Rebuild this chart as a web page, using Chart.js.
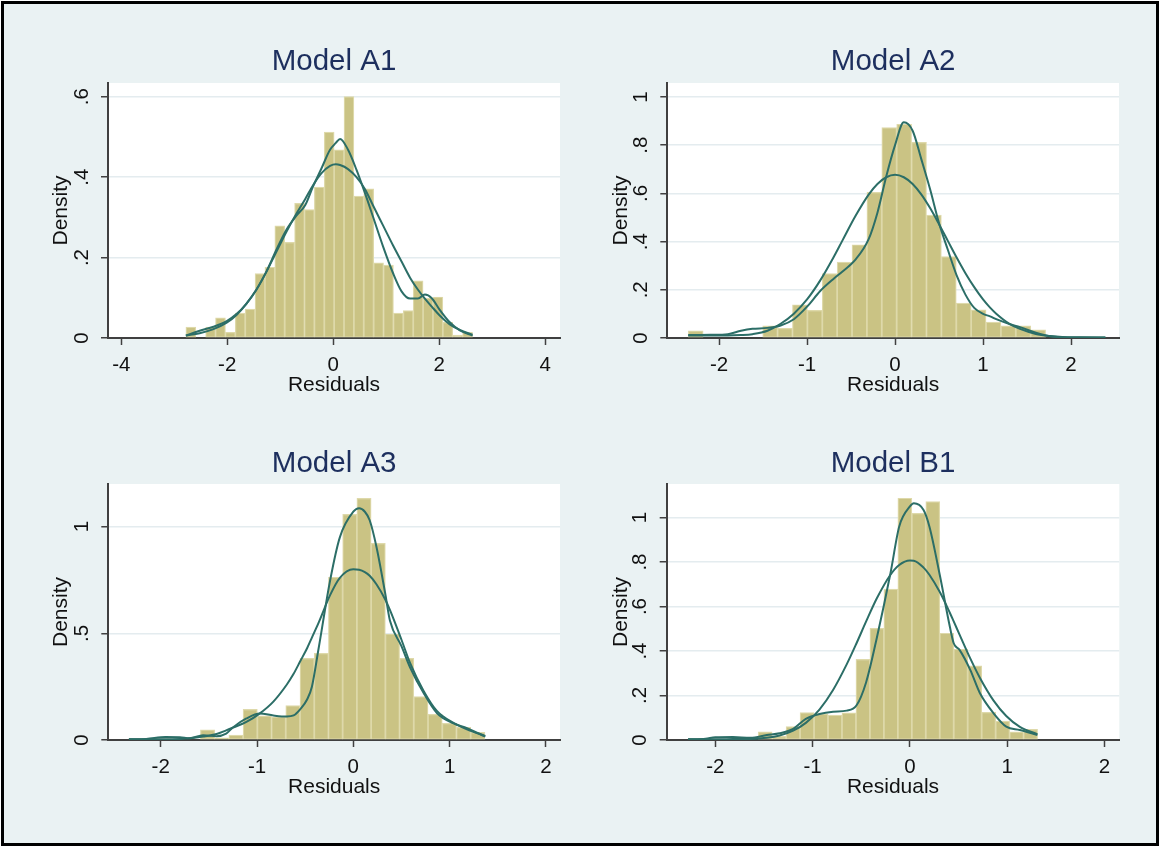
<!DOCTYPE html>
<html>
<head>
<meta charset="utf-8">
<script src="https://cdn.jsdelivr.net/npm/chart.js@4.4.1/dist/chart.umd.min.js"></script>
<style>
  html, body { margin: 0; padding: 0; background: #ffffff; }
  #frame { position: absolute; left: 1px; top: 1px; width: 1158px; height: 845px; box-sizing: border-box; border: 3px solid #000; background: #EAF2F3; }
  canvas { position: absolute; }
</style>
</head>
<body>
<div id="frame"></div>
<canvas id="cA1" width="580" height="410" style="left:0px;top:0px"></canvas>
<canvas id="cA2" width="560" height="410" style="left:580px;top:0px"></canvas>
<canvas id="cA3" width="580" height="410" style="left:0px;top:400px"></canvas>
<canvas id="cB1" width="560" height="410" style="left:580px;top:400px"></canvas>
<script>
// ---------------- DATA ----------------
// Model A1
const a1BinStart = -2.78, a1BinWidth = 0.1865;
const a1Bins = [0.027,0,0.027,0.05,0.014,0.062,0.072,0.16,0.176,0.279,0.238,0.335,0.319,0.375,0.512,0.468,0.60,0.353,0.371,0.187,0.181,0.062,0.068,0.142,0.099,0.102,0.039,0.007,0.014];
const a1CurveX = [-2.78,-2.52,-2.26,-2.01,-1.82,-1.64,-1.45,-1.26,-1.07,-0.88,-0.69,-0.53,-0.38,-0.22,-0.06,0.05,0.13,0.28,0.44,0.60,0.75,0.94,1.13,1.29,1.45,1.60,1.73,1.86,2.01,2.20,2.39,2.63];
const a1Kde  = [0.006,0.018,0.028,0.042,0.06,0.085,0.12,0.165,0.22,0.27,0.305,0.33,0.377,0.422,0.468,0.485,0.495,0.468,0.418,0.36,0.302,0.228,0.161,0.116,0.098,0.098,0.108,0.099,0.07,0.039,0.019,0.006];
const a1Norm = [0.006,0.012,0.022,0.038,0.058,0.085,0.12,0.165,0.215,0.265,0.31,0.345,0.38,0.41,0.428,0.432,0.43,0.42,0.40,0.37,0.33,0.28,0.23,0.19,0.15,0.12,0.098,0.078,0.056,0.034,0.02,0.008];
const a1XTicks = [-4,-2,0,2,4];
const a1YTicks = [0,0.2,0.4,0.6];
const a1YLabels = ['0','.2','.4','.6'];

// Model A2
const a2BinStart = -2.35, a2BinWidth = 0.1692;
const a2Bins = [0.03,0,0,0,0,0.05,0.04,0.138,0.115,0.267,0.315,0.387,0.604,0.873,0.887,0.812,0.51,0.338,0.145,0.117,0.066,0.05,0.05,0.034];
const a2CurveX = [-2.35,-2.1,-1.9,-1.75,-1.62,-1.45,-1.3,-1.15,-1.0,-0.85,-0.7,-0.6,-0.45,-0.3,-0.2,-0.1,0,0.1,0.2,0.3,0.4,0.5,0.6,0.7,0.8,0.9,1.0,1.08,1.15,1.3,1.42,1.6,1.76,1.9,2.1,2.39];
const a2Kde  = [0.012,0.013,0.016,0.03,0.038,0.042,0.052,0.078,0.13,0.195,0.245,0.275,0.325,0.41,0.52,0.67,0.8,0.895,0.86,0.74,0.615,0.476,0.366,0.26,0.18,0.125,0.1,0.09,0.078,0.058,0.045,0.022,0.007,0.003,0.002,0.002];
const a2Norm = [0.01,0.01,0.01,0.012,0.016,0.03,0.059,0.101,0.16,0.239,0.334,0.403,0.506,0.595,0.639,0.667,0.677,0.667,0.639,0.595,0.538,0.472,0.403,0.334,0.269,0.211,0.16,0.126,0.101,0.059,0.038,0.017,0.008,0.004,0.003,0.002];
const a2XTicks = [-2,-1,0,1,2];
const a2YTicks = [0,0.2,0.4,0.6,0.8,1];
const a2YLabels = ['0','.2','.4','.6','.8','1'];

// Model A3
const a3BinStart = -2.326, a3BinWidth = 0.1477;
const a3Bins = [0.005,0.005,0.005,0,0,0.048,0.01,0.023,0.144,0.113,0.108,0.161,0.383,0.406,0.763,1.058,1.133,0.922,0.497,0.383,0.203,0.12,0.078,0.059,0.036];
const a3CurveX = [-2.33,-2.15,-1.95,-1.8,-1.7,-1.56,-1.42,-1.32,-1.25,-1.11,-0.97,-0.83,-0.69,-0.62,-0.55,-0.48,-0.43,-0.36,-0.24,-0.14,0,0.06,0.12,0.17,0.24,0.33,0.38,0.5,0.59,0.73,0.87,1.04,1.18,1.37];
const a3Kde  = [0.003,0.005,0.014,0.013,0.008,0.022,0.018,0.03,0.059,0.101,0.124,0.115,0.11,0.115,0.145,0.19,0.25,0.43,0.75,0.95,1.07,1.086,1.07,1.03,0.906,0.69,0.56,0.44,0.34,0.22,0.125,0.078,0.055,0.016];
const a3Norm = [0.003,0.003,0.003,0.005,0.008,0.016,0.028,0.045,0.058,0.085,0.125,0.18,0.26,0.31,0.37,0.43,0.48,0.55,0.68,0.76,0.80,0.798,0.787,0.77,0.73,0.66,0.61,0.47,0.36,0.23,0.135,0.08,0.05,0.019];
const a3XTicks = [-2,-1,0,1,2];
const a3YTicks = [0,0.5,1];
const a3YLabels = ['0','.5','1'];

// Model B1
const b1BinStart = -2.278, b1BinWidth = 0.1436;
const b1Bins = [0.004,0.004,0,0,0,0.037,0.016,0.06,0.123,0.118,0.112,0.122,0.363,0.502,0.678,1.087,1.019,1.072,0.48,0.408,0.333,0.124,0.085,0.037,0.048];
const b1CurveX = [-2.28,-2.1,-2.0,-1.82,-1.64,-1.47,-1.34,-1.2,-1.07,-0.93,-0.79,-0.65,-0.55,-0.45,-0.34,-0.2,-0.11,0,0.04,0.14,0.2,0.31,0.41,0.45,0.51,0.62,0.72,0.86,0.99,1.13,1.31];
const b1Kde  = [0.003,0.006,0.012,0.013,0.01,0.022,0.03,0.05,0.095,0.117,0.127,0.132,0.155,0.26,0.46,0.75,0.96,1.05,1.064,1.034,0.96,0.735,0.51,0.435,0.405,0.315,0.21,0.12,0.06,0.045,0.022];
const b1Norm = [0.003,0.003,0.003,0.004,0.005,0.01,0.02,0.042,0.077,0.137,0.225,0.34,0.434,0.533,0.637,0.743,0.787,0.807,0.806,0.775,0.743,0.663,0.572,0.533,0.474,0.367,0.279,0.177,0.108,0.059,0.026];
const b1XTicks = [-2,-1,0,1,2];
const b1YTicks = [0,0.2,0.4,0.6,0.8,1];
const b1YLabels = ['0','.2','.4','.6','.8','1'];

// ---------------- STYLE ----------------
const FONT = "'Liberation Sans', Arial, Helvetica, sans-serif";
const titleColor = '#1d2f5e';
const barFill = 'rgb(202,195,132)';
const barLine = 'rgb(222,217,170)';
const curveColor = '#2c6e67';
const axisColor = '#404040';
const gridColor = '#e4ecef';
const textColor = '#111111';
const TICK_SIZE = 20.5, AXT_SIZE = 21, TITLE_SIZE = 29.5;

const whiteArea = {
  id: 'whiteArea',
  beforeDraw(chart) {
    const { ctx, chartArea: a } = chart;
    ctx.save();
    ctx.fillStyle = '#ffffff';
    ctx.fillRect(a.left, a.top, a.right - a.left, a.bottom - a.top);
    ctx.restore();
  }
};

function panel(id, p) {
  const centers = p.bins.map((_, i) => p.binStart + (i + 0.5) * p.binWidth);
  const lineDs = (ys) => ({
    type: 'line',
    data: p.curveX.map((x, i) => ({ x: x, y: ys[i] })),
    borderColor: curveColor,
    borderWidth: 2,
    pointRadius: 0,
    fill: false,
    cubicInterpolationMode: 'monotone',
    order: 0
  });
  new Chart(document.getElementById(id), {
    type: 'bar',
    data: {
      datasets: [
        lineDs(p.kde),
        lineDs(p.norm),
        {
          type: 'bar',
          data: centers.map((x, i) => ({ x: x, y: p.bins[i] })),
          backgroundColor: barFill,
          borderColor: barLine,
          borderWidth: 1.2,
          borderSkipped: false,
          barPercentage: 1,
          categoryPercentage: 1,
          grouped: false,
          order: 1
        }
      ]
    },
    options: {
      responsive: false,
      animation: false,
      events: [],
      layout: { padding: p.pad },
      plugins: {
        legend: { display: false },
        tooltip: { enabled: false },
        title: {
          display: true,
          text: p.title,
          fullSize: false,
          color: titleColor,
          font: { family: FONT, size: TITLE_SIZE, weight: 'normal', lineHeight: 1.2 },
          padding: p.titlePad
        }
      },
      scales: {
        x: {
          type: 'linear',
          min: p.xMin, max: p.xMax,
          offset: false,
          afterBuildTicks: (s) => { s.ticks = p.xTicks.map(v => ({ value: v })); },
          afterFit: (s) => { s.height = 70; },
          ticks: {
            autoSkip: false, maxRotation: 0, minRotation: 0,
            padding: 7.7,
            color: textColor,
            font: { family: FONT, size: TICK_SIZE },
            callback: (v) => String(v)
          },
          grid: {
            display: true, drawOnChartArea: false, drawTicks: true,
            tickLength: 7, tickColor: axisColor, tickWidth: 1.5, offset: false
          },
          border: { display: true, color: axisColor, width: 2 },
          title: {
            display: true, text: 'Residuals', color: textColor,
            font: { family: FONT, size: AXT_SIZE },
            padding: { top: 0, bottom: 10.4 }
          }
        },
        y: {
          type: 'linear',
          min: 0, max: p.yMax,
          afterBuildTicks: (s) => { s.ticks = p.yTicks.map(v => ({ value: v })); },
          afterFit: (s) => { s.width = p.yWidth; },
          ticks: {
            autoSkip: false, minRotation: 90, maxRotation: 90,
            crossAlign: 'center',
            padding: 10.4,
            color: textColor,
            font: { family: FONT, size: TICK_SIZE },
            callback: (v) => p.yLabels[p.yTicks.indexOf(v)]
          },
          grid: {
            display: true, drawOnChartArea: true, drawTicks: true,
            color: gridColor, lineWidth: 1.5,
            tickLength: 7, tickColor: axisColor, tickWidth: 1.5
          },
          border: { display: true, color: axisColor, width: 2 },
          title: {
            display: true, text: 'Density', color: textColor,
            font: { family: FONT, size: AXT_SIZE },
            padding: { top: p.yTitlePad, bottom: 0 }
          }
        }
      }
    },
    plugins: [whiteArea]
  });
}

const topTitlePad = { top: 44.3, bottom: 3.3 };
const botTitlePad = { top: 46.3, bottom: 2.3 };

panel('cA1', {
  title: 'Model A1', bins: a1Bins, binStart: a1BinStart, binWidth: a1BinWidth,
  curveX: a1CurveX, kde: a1Kde, norm: a1Norm,
  xMin: -4.25, xMax: 4.28, yMax: 0.634,
  xTicks: a1XTicks, yTicks: a1YTicks, yLabels: a1YLabels,
  pad: { left: 0, right: 20, top: 0, bottom: 2 }, yWidth: 108, yTitlePad: 48.4, titlePad: topTitlePad
});
panel('cA2', {
  title: 'Model A2', bins: a2Bins, binStart: a2BinStart, binWidth: a2BinWidth,
  curveX: a2CurveX, kde: a2Kde, norm: a2Norm,
  xMin: -2.588, xMax: 2.545, yMax: 1.058,
  xTicks: a2XTicks, yTicks: a2YTicks, yLabels: a2YLabels,
  pad: { left: 0, right: 21, top: 0, bottom: 2 }, yWidth: 87.3, yTitlePad: 28.4, titlePad: topTitlePad
});
panel('cA3', {
  title: 'Model A3', bins: a3Bins, binStart: a3BinStart, binWidth: a3BinWidth,
  curveX: a3CurveX, kde: a3Kde, norm: a3Norm,
  xMin: -2.544, xMax: 2.146, yMax: 1.2,
  xTicks: a3XTicks, yTicks: a3YTicks, yLabels: a3YLabels,
  pad: { left: 0, right: 20, top: 0, bottom: 0 }, yWidth: 108.3, yTitlePad: 48.4, titlePad: botTitlePad
});
panel('cB1', {
  title: 'Model B1', bins: b1Bins, binStart: b1BinStart, binWidth: b1BinWidth,
  curveX: b1CurveX, kde: b1Kde, norm: b1Norm,
  xMin: -2.5, xMax: 2.152, yMax: 1.151,
  xTicks: b1XTicks, yTicks: b1YTicks, yLabels: b1YLabels,
  pad: { left: 0, right: 20.7, top: 0, bottom: 0 }, yWidth: 86.7, yTitlePad: 28.4, titlePad: botTitlePad
});
</script>
</body>
</html>
